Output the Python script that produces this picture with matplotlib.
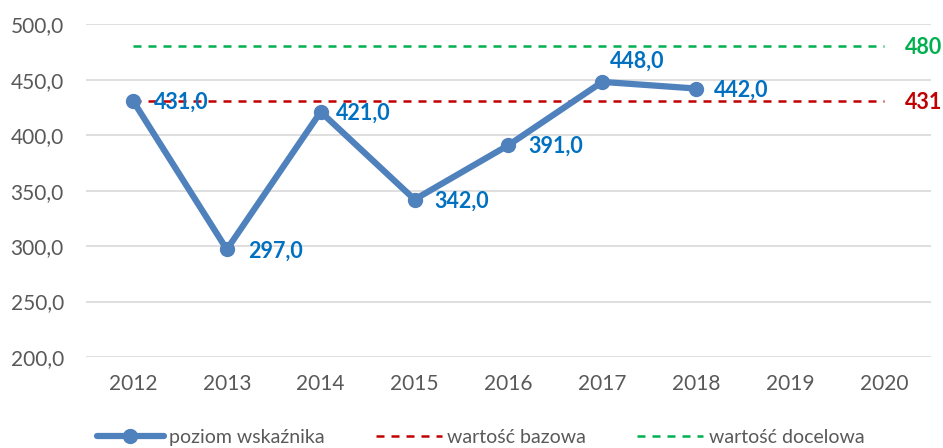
import matplotlib.pyplot as plt

years = ['2012', '2013', '2014', '2015', '2016', '2017', '2018', '2019', '2020']
poziom = [431.0, 297.0, 421.0, 342.0, 391.0, 448.0, 442.0]
bazowa = 431
docelowa = 480

plt.rcParams['font.family'] = ['Lato', 'DejaVu Sans']

fig = plt.figure(figsize=(9.43, 4.48), dpi=100)
ax = fig.add_axes([0.0912, 0.203, 0.896, 0.743])

x = list(range(len(years)))
xp = x[:len(poziom)]

dash = (0, (3.2, 2.8))
ax.plot(x, [docelowa] * len(x), color='#00B050', ls=dash, lw=1.8,
        label='wartość docelowa', zorder=2)
ax.plot(x, [bazowa] * len(x), color='#C00000', ls=dash, lw=1.8,
        label='wartość bazowa', zorder=2)
ax.plot(xp, poziom, color='#4F81BD', lw=4.5, marker='o', ms=10,
        label='poziom wskaźnika', zorder=3, solid_capstyle='round')

# etykiety danych
offsets = [(15, -1), (15, -1), (11, -1), (14, -1), (14, -1), (25, 15), (13, -1)]
for xi, v, off in zip(xp, poziom, offsets):
    ha = 'center' if off[1] > 0 else 'left'
    ax.annotate(f'{v:.1f}'.replace('.', ','), (xi, v), xytext=off,
                textcoords='offset points', ha=ha, va='center',
                color='#0070C0', fontsize=15.5, fontweight='bold', zorder=4)

ax.annotate(str(docelowa), (x[-1], docelowa), xytext=(15, -1),
            textcoords='offset points', ha='left', va='center',
            color='#00B050', fontsize=15.5, fontweight='bold')
ax.annotate(str(bazowa), (x[-1], bazowa), xytext=(15, -1),
            textcoords='offset points', ha='left', va='center',
            color='#C00000', fontsize=15.5, fontweight='bold')

ax.set_xlim(-0.5, len(years) - 0.5)
ax.set_ylim(200, 500)
ax.set_yticks(range(200, 501, 50))
ax.set_yticklabels([f'{t},0' for t in range(200, 501, 50)])
ax.set_xticks(x)
ax.set_xticklabels(years)
ax.tick_params(length=0, labelsize=15, colors='#595959', pad=12)
ax.tick_params(axis='y', pad=16)
ax.grid(axis='y', color='#D9D9D9', lw=1.2)
ax.set_axisbelow(True)
for s in ax.spines.values():
    s.set_visible(False)

h, l = ax.get_legend_handles_labels()
fig.legend([h[2], h[1], h[0]], [l[2], l[1], l[0]], loc='lower center',
           bbox_to_anchor=(0.51, -0.035), ncol=3, frameon=False, fontsize=14,
           labelcolor='#595959', handlelength=3.4, columnspacing=2.6,
           handletextpad=0.3)

fig.savefig('out.png', dpi=100)
